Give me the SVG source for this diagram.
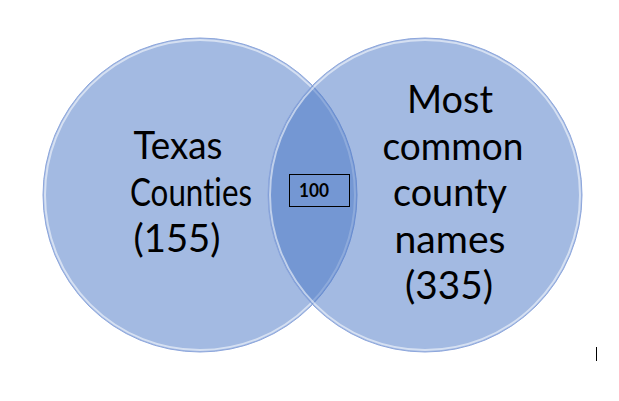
<svg xmlns="http://www.w3.org/2000/svg" width="619" height="401" viewBox="0 0 619 401">
  <style>
    .circ { fill: #4472C4; fill-opacity: 0.49; }
    .rim { fill: none; stroke: #ffffff; stroke-opacity: 0.55; stroke-width: 2; }
    .edge { fill: none; stroke: #8DA6DC; stroke-width: 1; }
    .lbl { font-family: Lato, "Open Sans", sans-serif; font-size: 38px; fill: #000000; text-anchor: middle; font-variant-ligatures: none; font-feature-settings: "liga" 0, "clig" 0; }
    .num { font-family: Lato, "Liberation Sans", sans-serif; font-size: 18px; font-weight: bold; fill: #000000; text-anchor: middle; }
  </style>
  <rect width="619" height="401" fill="#ffffff"/>
  <g id="texas-counties">
    <circle class="circ" cx="200" cy="195" r="157"/>
    <circle class="edge" cx="200" cy="195" r="157"/>
    <circle class="rim" cx="200" cy="195" r="155"/>
    <text class="lbl" x="178" y="159" textLength="89" lengthAdjust="spacingAndGlyphs">Texas</text>
    <text class="lbl" x="191" y="206" textLength="122" lengthAdjust="spacingAndGlyphs">Counties</text>
    <text class="lbl" x="177" y="252" textLength="87" lengthAdjust="spacingAndGlyphs">(155)</text>
  </g>
  <g id="common-names">
    <circle class="circ" cx="425" cy="195" r="157"/>
    <circle class="edge" cx="425" cy="195" r="157"/>
    <circle class="rim" cx="425" cy="195" r="155"/>
    <text class="lbl" x="450" y="113" textLength="86" lengthAdjust="spacingAndGlyphs">Most</text>
    <text class="lbl" x="453" y="160" textLength="141" lengthAdjust="spacingAndGlyphs">common</text>
    <text class="lbl" x="450" y="206" textLength="114" lengthAdjust="spacingAndGlyphs">county</text>
    <text class="lbl" x="450" y="253" textLength="111" lengthAdjust="spacingAndGlyphs">names</text>
    <text class="lbl" x="449" y="299" textLength="88" lengthAdjust="spacingAndGlyphs">(335)</text>
  </g>
  <g id="overlap">
    <rect x="289.5" y="174.5" width="60" height="32" fill="none" stroke="#000000" stroke-width="1"/>
    <text class="num" x="314" y="197" textLength="30" lengthAdjust="spacingAndGlyphs">100</text>
  </g>
  <line x1="596.5" y1="347" x2="596.5" y2="361" stroke="#000000" stroke-width="1"/>
</svg>
